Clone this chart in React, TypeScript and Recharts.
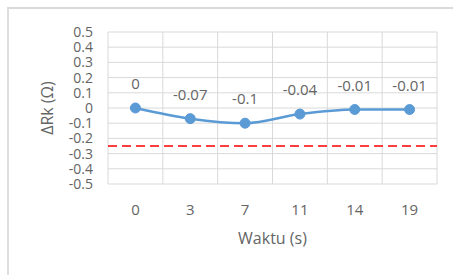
import React from 'react';
import { LineChart, Line, XAxis, YAxis, CartesianGrid, ReferenceLine, LabelList } from 'recharts';

const times = ['0', '3', '7', '11', '14', '19'];
const deltaRk = [0, -0.07, -0.1, -0.04, -0.01, -0.01];
const yTicks = [0.5, 0.4, 0.3, 0.2, 0.1, 0, -0.1, -0.2, -0.3, -0.4, -0.5];
const limit = -0.25;

const data = times.map((t, i) => ({ time: t, value: deltaRk[i] }));

const FONT = '"Open Sans", sans-serif';
const TEXT = '#646464';

const App: React.FC = () => {
    return (
        <div
            style={{
                position: 'absolute',
                left: 7,
                top: 7,
                width: 444,
                height: 266,
                borderTop: '2px solid #dadada',
                borderLeft: '2px solid #dedede',
                background: '#fff',
                fontFamily: FONT,
            }}
        >
            <LineChart width={444} height={266} data={data} margin={{ top: 23, right: 16, bottom: 26, left: 0 }}>
                <CartesianGrid
                    stroke="#d9d9d9"
                    verticalCoordinatesGenerator={({ offset }: any) =>
                        times.concat('').map((_, i) => offset.left + (i * offset.width) / times.length)
                    }
                />
                <XAxis
                    dataKey="time"
                    scale="band"
                    axisLine={false}
                    tickLine={false}
                    height={65}
                    tickMargin={14}
                    tick={{ fill: TEXT, fontSize: 15, fontFamily: FONT }}
                    label={{
                        value: 'Waktu (s)',
                        position: 'insideBottom',
                        offset: 5,
                        style: { fill: TEXT, fontSize: 16, fontFamily: FONT },
                    }}
                />
                <YAxis
                    type="number"
                    domain={[-0.5, 0.5]}
                    ticks={yTicks}
                    interval={0}
                    width={99}
                    axisLine={false}
                    tickLine={false}
                    tickMargin={9}
                    tickFormatter={(v: number) => String(Number(v.toFixed(1)))}
                    tick={{ fill: TEXT, fontSize: 14, fontFamily: FONT }}
                    label={{
                        value: 'ΔRk (Ω)',
                        angle: -90,
                        position: 'insideLeft',
                        offset: 38,
                        style: { fill: TEXT, fontSize: 16, fontFamily: FONT, textAnchor: 'middle' },
                    }}
                />
                <ReferenceLine y={limit} stroke="#ff0000" strokeWidth={1.5} strokeDasharray="9 5" />
                <Line
                    type="monotone"
                    dataKey="value"
                    stroke="#5b9bd5"
                    strokeWidth={2.5}
                    dot={{ r: 5, fill: '#5b9bd5', stroke: '#5b9bd5', strokeWidth: 1 }}
                    isAnimationActive={false}
                >
                    <LabelList
                        dataKey="value"
                        position="top"
                        offset={19}
                        style={{ fill: TEXT, fontSize: 15, fontFamily: FONT }}
                    />
                </Line>
            </LineChart>
        </div>
    );
};

export default App;
